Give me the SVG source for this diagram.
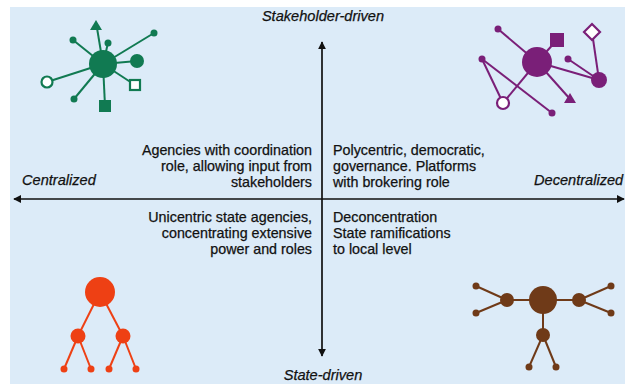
<svg xmlns="http://www.w3.org/2000/svg" width="625" height="384" viewBox="0 0 625 384">
<defs>
<marker id="ah" viewBox="0 0 10 10" refX="9" refY="5" markerWidth="8" markerHeight="8" markerUnits="userSpaceOnUse" orient="auto"><path d="M0,0 L10,5 L0,10 z" fill="#111"/></marker>
<style>
text{font-family:"Liberation Sans",Arial,sans-serif;font-size:14.3px;fill:#111;stroke:#111;stroke-width:0.25}
.ax{font-style:italic;font-size:14.6px}
.r{text-anchor:end}
.axis{stroke:#111;stroke-width:1.7;fill:none}
.g line{stroke:#117a52;stroke-width:2}
.g .f{fill:#117a52}
.g .h{fill:#fff;stroke:#117a52;stroke-width:2.2}
.p line{stroke:#7a1f78;stroke-width:2}
.p .f{fill:#7a1f78}
.p .h{fill:#fff;stroke:#7a1f78;stroke-width:2.2}
.o line{stroke:#ee4014;stroke-width:2}
.o .f{fill:#ee4014}
.b line{stroke:#6f3a18;stroke-width:2}
.b .f{fill:#6f3a18}
</style>
</defs>
<rect width="625" height="384" fill="#ffffff"/>
<rect x="10" y="7" width="615" height="377" fill="#dcebf8"/>
<g id="connectors">
<line class="axis" x1="322" y1="199" x2="14" y2="199" marker-end="url(#ah)"/>
<line class="axis" x1="322" y1="199" x2="624" y2="199" marker-end="url(#ah)"/>
<line class="axis" x1="322" y1="199" x2="322" y2="42" marker-end="url(#ah)"/>
<line class="axis" x1="322" y1="199" x2="322" y2="356" marker-end="url(#ah)"/>
</g>
<g id="label-top"><text class="ax" x="323" y="21" text-anchor="middle">Stakeholder-driven</text></g>
<g id="label-bottom"><text class="ax" x="323" y="380" text-anchor="middle">State-driven</text></g>
<g id="label-left"><text class="ax" x="22" y="185">Centralized</text></g>
<g id="label-right"><text class="ax" x="534" y="185">Decentralized</text></g>
<g id="q-top-left">
<text class="r" x="312" y="155">Agencies with coordination</text>
<text class="r" x="312" y="171">role, allowing input from</text>
<text class="r" x="312" y="187">stakeholders</text>
</g>
<g id="q-top-right">
<text x="333" y="155">Polycentric, democratic,</text>
<text x="333" y="171">governance. Platforms</text>
<text x="333" y="187">with brokering role</text>
</g>
<g id="q-bottom-left">
<text class="r" x="312" y="222">Unicentric state agencies,</text>
<text class="r" x="312" y="238">concentrating extensive</text>
<text class="r" x="312" y="254">power and roles</text>
</g>
<g id="q-bottom-right">
<text x="333" y="222">Deconcentration</text>
<text x="333" y="238">State ramifications</text>
<text x="333" y="254">to local level</text>
</g>
<g id="net-green" class="g">
<line x1="103" y1="64" x2="97" y2="28"/>
<line x1="103" y1="64" x2="73" y2="40"/>
<line x1="103" y1="64" x2="108" y2="43"/>
<line x1="103" y1="64" x2="154" y2="33"/>
<line x1="103" y1="64" x2="137" y2="61"/>
<line x1="103" y1="64" x2="135" y2="85"/>
<line x1="103" y1="64" x2="105" y2="106"/>
<line x1="103" y1="64" x2="74" y2="99"/>
<line x1="103" y1="64" x2="47" y2="82"/>
<circle class="f" cx="103" cy="64" r="14"/>
<path class="f" d="M96,20 L102,30 L90,30 z"/>
<circle class="f" cx="73" cy="40" r="3.5"/>
<circle class="f" cx="108" cy="43" r="3.5"/>
<circle class="f" cx="154" cy="33" r="3.5"/>
<circle class="f" cx="137" cy="61" r="7"/>
<rect class="h" x="130" y="80" width="10" height="10"/>
<rect class="f" x="99" y="100" width="12" height="12"/>
<circle class="f" cx="74" cy="99" r="3.5"/>
<circle class="h" cx="47" cy="82" r="5.5"/>
</g>
<g id="net-purple" class="p">
<line x1="537" y1="62" x2="498" y2="29"/>
<line x1="537" y1="62" x2="557" y2="40"/>
<line x1="537" y1="62" x2="599" y2="80"/>
<line x1="537" y1="62" x2="570" y2="99"/>
<line x1="537" y1="62" x2="503" y2="103"/>
<line x1="592" y1="32" x2="599" y2="80"/>
<line x1="568" y1="59" x2="599" y2="80"/>
<line x1="482" y1="59" x2="503" y2="103"/>
<line x1="482" y1="59" x2="552" y2="113"/>
<circle class="f" cx="537" cy="62" r="15"/>
<rect class="f" x="550" y="33" width="14" height="14"/>
<path class="h" d="M592,24 L600,32 L592,40 L584,32 z"/>
<circle class="f" cx="599" cy="80" r="8"/>
<circle class="f" cx="568" cy="59" r="3.5"/>
<circle class="f" cx="498" cy="29" r="3.5"/>
<circle class="f" cx="482" cy="59" r="3.5"/>
<circle class="h" cx="503" cy="103" r="6"/>
<circle class="f" cx="552" cy="113" r="3.5"/>
<path class="f" d="M570,93 L576,103 L564,103 z"/>
</g>
<g id="tree-red" class="o">
<line x1="100" y1="292" x2="78" y2="336"/>
<line x1="100" y1="292" x2="123" y2="336"/>
<line x1="78" y1="336" x2="64" y2="369"/>
<line x1="78" y1="336" x2="91" y2="369"/>
<line x1="123" y1="336" x2="109" y2="369"/>
<line x1="123" y1="336" x2="136" y2="369"/>
<circle class="f" cx="100" cy="292" r="15"/>
<circle class="f" cx="78" cy="336" r="7.5"/>
<circle class="f" cx="123" cy="336" r="7.5"/>
<circle class="f" cx="64" cy="369" r="3.5"/>
<circle class="f" cx="91" cy="369" r="3.5"/>
<circle class="f" cx="109" cy="369" r="3.5"/>
<circle class="f" cx="136" cy="369" r="3.5"/>
</g>
<g id="tree-brown" class="b">
<line x1="507" y1="300" x2="579" y2="300"/>
<line x1="543" y1="300" x2="543" y2="335"/>
<line x1="507" y1="300" x2="476" y2="286"/>
<line x1="507" y1="300" x2="476" y2="313"/>
<line x1="579" y1="300" x2="611" y2="286"/>
<line x1="579" y1="300" x2="611" y2="313"/>
<line x1="543" y1="335" x2="529" y2="367"/>
<line x1="543" y1="335" x2="556" y2="367"/>
<circle class="f" cx="543" cy="300" r="14"/>
<circle class="f" cx="507" cy="300" r="7"/>
<circle class="f" cx="579" cy="300" r="7"/>
<circle class="f" cx="543" cy="335" r="7"/>
<circle class="f" cx="476" cy="286" r="3.5"/>
<circle class="f" cx="476" cy="313" r="3.5"/>
<circle class="f" cx="611" cy="286" r="3.5"/>
<circle class="f" cx="611" cy="313" r="3.5"/>
<circle class="f" cx="529" cy="367" r="3.5"/>
<circle class="f" cx="556" cy="367" r="3.5"/>
</g>
</svg>
